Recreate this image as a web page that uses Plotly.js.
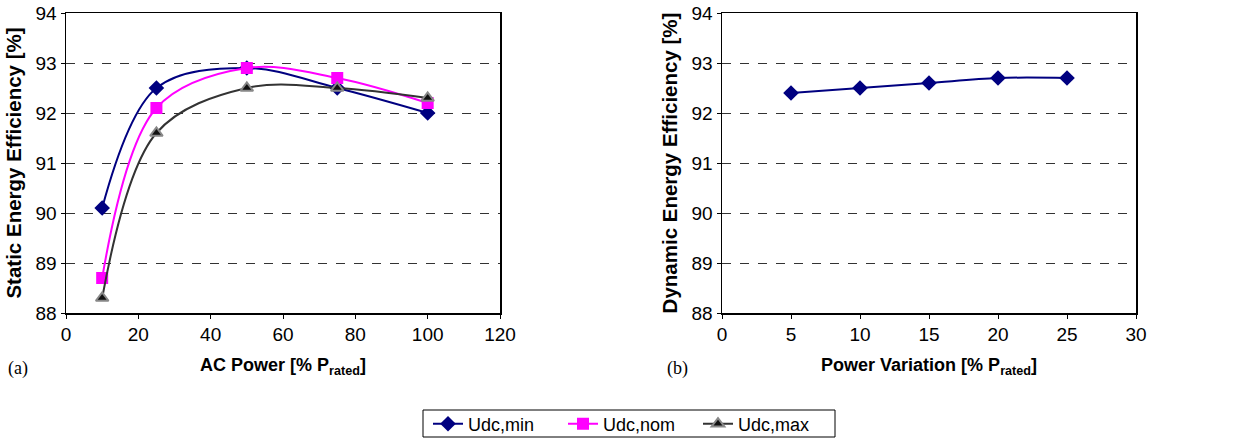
<!DOCTYPE html>
<html>
<head>
<meta charset="utf-8">
<script src="https://cdn.plot.ly/plotly-3.0.1.min.js"></script>
<style>html,body{margin:0;padding:0;background:#fff;}#chart{width:1256px;height:439px;}</style>
</head>
<body>
<div id="chart"></div>
<script>
// Panel (a): static efficiency vs AC power
const acPower = [10, 25, 50, 75, 100];
const udcMin = [90.1, 92.5, 92.9, 92.5, 92.0];
const udcNom = [88.7, 92.1, 92.9, 92.7, 92.2];
const udcMax = [88.3, 91.6, 92.5, 92.5, 92.3];
const seriesNames = ["Udc,min", "Udc,nom", "Udc,max"];
// Panel (b): dynamic efficiency vs power variation
const powerVariation = [5, 10, 15, 20, 25];
const dynamicEff = [92.4, 92.5, 92.6, 92.7, 92.7];

const W = 1256, H = 439;
const px = v => v / W;
const py = v => 1 - v / H;

const traces = [
  {x: acPower, y: udcMin, name: seriesNames[0], type: 'scatter', mode: 'lines+markers',
   line: {color: '#000080', width: 2, shape: 'spline', smoothing: 1},
   marker: {symbol: 'diamond', size: 12, color: '#000080'}, xaxis: 'x', yaxis: 'y'},
  {x: acPower, y: udcNom, name: seriesNames[1], type: 'scatter', mode: 'lines+markers',
   line: {color: '#FF00FF', width: 2, shape: 'spline', smoothing: 1},
   marker: {symbol: 'square', size: 12, color: '#FF00FF'}, xaxis: 'x', yaxis: 'y'},
  {x: acPower, y: udcMax, name: seriesNames[2], type: 'scatter', mode: 'lines+markers',
   line: {color: '#333333', width: 2, shape: 'spline', smoothing: 1},
   marker: {symbol: 'triangle-up', size: 11, color: '#111111', line: {color: '#888888', width: 2}}, xaxis: 'x', yaxis: 'y'},
  {x: powerVariation, y: dynamicEff, name: 'Dynamic', showlegend: false, type: 'scatter', mode: 'lines+markers',
   line: {color: '#000080', width: 2, shape: 'spline', smoothing: 1},
   marker: {symbol: 'diamond', size: 12, color: '#000080'}, xaxis: 'x2', yaxis: 'y2'}
];

const FAM = 'Liberation Sans, Arial, sans-serif';
const tickFont = {family: FAM, size: 19, color: '#000'};
const xTitleFont = {family: FAM, size: 18, color: '#000'};
const yTitleFont = {family: FAM, size: 20.5, color: '#000'};

const yCommon = {
  range: [88, 94], dtick: 1, tick0: 88, automargin: false,
  showline: true, mirror: true, linecolor: '#000', linewidth: 1.5,
  ticks: 'outside', ticklen: 4, tickcolor: '#000', tickwidth: 1,
  showgrid: true, gridcolor: '#333', griddash: 'dash', gridwidth: 1,
  zeroline: false, tickfont: tickFont,
  domain: [py(313), py(13)]
};
const xCommon = {
  automargin: false,
  showline: true, mirror: true, linecolor: '#000', linewidth: 1.5,
  ticks: 'outside', ticklen: 4, tickcolor: '#000', tickwidth: 1,
  showgrid: false, zeroline: false, tickfont: tickFont
};

const layout = {
  width: W, height: H,
  margin: {l: 0, r: 0, t: 0, b: 0, autoexpand: false},
  paper_bgcolor: '#fff', plot_bgcolor: '#fff',
  showlegend: true,
  legend: {orientation: 'h', x: px(428), xanchor: 'left', y: py(424), yanchor: 'middle',
    bgcolor: 'rgba(0,0,0,0)', borderwidth: 0, font: {family: FAM, size: 18, color: '#000'},
    entrywidth: 90, entrywidthmode: 'pixels', tracegroupgap: 0},
  xaxis: Object.assign({}, xCommon, {range: [0, 120], dtick: 20, domain: [px(66), px(500)], anchor: 'y',
    title: {text: '<b>AC Power [% P<sub>rated</sub>]</b>', font: xTitleFont, standoff: 14}}),
  yaxis: Object.assign({}, yCommon, {anchor: 'x',
    title: {text: '<b>Static Energy Efficiency [%]</b>', font: yTitleFont, standoff: 8}}),
  xaxis2: Object.assign({}, xCommon, {range: [0, 30], dtick: 5, domain: [px(722), px(1136)], anchor: 'y2',
    title: {text: '<b>Power Variation [% P<sub>rated</sub>]</b>', font: xTitleFont, standoff: 14}}),
  yaxis2: Object.assign({}, yCommon, {anchor: 'x2',
    title: {text: '<b>Dynamic Energy Efficiency [%]</b>', font: yTitleFont, standoff: 8}}),
  shapes: [
    {type: 'rect', xref: 'paper', yref: 'paper', x0: px(423), x1: px(835), y0: py(437), y1: py(410),
     line: {color: '#000', width: 1}, fillcolor: 'rgba(0,0,0,0)'}
  ],
  annotations: [
    {text: '(a)', xref: 'paper', yref: 'paper', x: px(6), y: py(368), xanchor: 'left', yanchor: 'middle',
     showarrow: false, font: {family: 'Liberation Serif, Times New Roman, serif', size: 18, color: '#000'}},
    {text: '(b)', xref: 'paper', yref: 'paper', x: px(665), y: py(368), xanchor: 'left', yanchor: 'middle',
     showarrow: false, font: {family: 'Liberation Serif, Times New Roman, serif', size: 18, color: '#000'}}
  ]
};

Plotly.newPlot('chart', traces, layout, {displayModeBar: false, staticPlot: true});
</script>
</body>
</html>
